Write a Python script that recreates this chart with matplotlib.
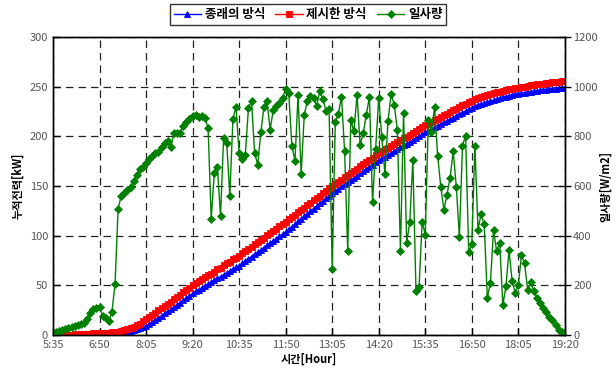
import numpy as np
import matplotlib
matplotlib.use("Agg")
import matplotlib.pyplot as plt

plt.rcParams['font.family'] = ['Noto Sans CJK KR', 'DejaVu Sans']

# sampling: every 5 minutes from 5:35 to 19:20 (minutes after midnight)
start_min = 335
step_min = 5
tick_labels = ['5:35', '6:50', '8:05', '9:20', '10:35', '11:50',
               '13:05', '14:20', '15:35', '16:50', '18:05', '19:20']

# accumulated power, conventional method [kW]
conv_kw = [
    0, 0, 0.1, 0.1, 0.2, 0.2, 0.3, 0.3, 0.4, 0.5, 0.5, 0.6, 0.7, 0.8, 0.9, 1.0,
    1.1, 1.2, 1.4, 1.6, 1.8, 2.1, 2.5, 3.0, 3.6, 4.3, 5.1, 5.9, 6.9, 7.9, 9.0,
    11.0, 13.1, 15.2, 17.4, 19.6, 21.8, 24.0, 26.2, 28.4, 30.6, 32.8, 35.0, 37.3, 39.6, 42.0,
    43.9, 45.8, 47.6, 49.5, 51.4, 53.2, 55.1, 57.0, 58.8, 60.7, 62.6, 64.4, 66.3, 68.1, 70.0,
    72.3, 74.5, 76.8, 79.1, 81.3, 83.6, 85.9, 88.1, 90.4, 92.7, 94.9, 97.2, 99.5, 101.7, 104.0,
    106.6, 109.2, 111.8, 114.4, 117.0, 119.6, 122.2, 124.8, 127.4, 130.0, 132.6, 135.2, 137.8, 140.4, 143.0,
    145.2, 147.4, 149.6, 151.8, 154.0, 156.2, 158.4, 160.6, 162.8, 165.0, 167.2, 169.4, 171.6, 173.8, 176.0,
    177.9, 179.7, 181.6, 183.5, 185.3, 187.2, 189.1, 190.9, 192.8, 194.7, 196.5, 198.4, 200.3, 202.1, 204.0,
    205.7, 207.3, 209.0, 210.7, 212.3, 214.0, 215.7, 217.3, 219.0, 220.7, 222.3, 224.0, 225.7, 227.3, 229.0,
    230.2, 231.3, 232.4, 233.5, 234.5, 235.5, 236.5, 237.4, 238.3, 239.2, 240.0, 240.8, 241.6, 242.3, 243.0,
    243.5, 244.0, 244.5, 245.0, 245.4, 245.8, 246.2, 246.6, 247.0, 247.3, 247.6, 247.9, 248.2, 248.5, 248.7,
]

# accumulated power, proposed method [kW]
prop_kw = [
    0, 0.1, 0.2, 0.3, 0.4, 0.5, 0.6, 0.8, 0.9, 1.0, 1.2, 1.3, 1.5, 1.7, 1.9, 2.0,
    2.2, 2.4, 2.6, 2.9, 3.2, 3.6, 4.1, 4.8, 5.7, 6.8, 8.1, 9.7, 11.6, 13.7, 16.0,
    18.2, 20.4, 22.6, 24.8, 27.0, 29.2, 31.5, 33.8, 36.1, 38.4, 40.7, 43.0, 45.3, 47.6, 50.0,
    52.1, 54.0, 56.2, 58.1, 60.0, 61.9, 64.0, 66.1, 68.0, 70.2, 72.1, 74.0, 76.1, 78.0, 80.0,
    82.2, 84.4, 86.7, 89.0, 91.3, 93.5, 95.8, 98.1, 100.4, 102.7, 105.0, 107.2, 109.4, 111.7, 114.0,
    116.4, 118.8, 121.2, 123.6, 126.0, 128.4, 130.8, 133.2, 135.6, 138.0, 140.4, 142.8, 145.2, 147.6, 150.0,
    152.2, 154.4, 156.6, 158.8, 161.0, 163.2, 165.4, 167.6, 169.8, 172.0, 174.2, 176.4, 178.6, 180.8, 183.0,
    185.0, 186.9, 188.8, 190.7, 192.5, 194.3, 196.1, 197.9, 199.7, 201.5, 203.3, 205.2, 207.1, 209.0, 211.0,
    212.7, 214.4, 216.1, 217.8, 219.5, 221.2, 222.9, 224.6, 226.3, 228.0, 229.7, 231.3, 232.9, 234.5, 236.0,
    237.2, 238.3, 239.4, 240.5, 241.5, 242.5, 243.4, 244.3, 245.1, 245.9, 246.6, 247.3, 247.9, 248.5, 249.0,
    249.6, 250.2, 250.8, 251.3, 251.8, 252.3, 252.8, 253.2, 253.6, 254.0, 254.4, 254.8, 255.2, 255.5, 255.8,
]

# irradiance [W/m2]
irr_wm2 = [
    7, 11, 16, 20, 24, 29, 33, 37, 40, 43, 47, 63, 87, 107, 110, 114, 76, 70, 58, 94,
    205, 508, 562, 574, 586, 598, 622, 645, 669,
    676, 692, 709, 721, 732, 737, 759, 772, 780, 756, 812, 813, 813, 843, 856, 870,
    883, 887, 879, 882, 874, 834, 468, 652, 676, 478, 793,
    772, 562, 870, 919, 732, 709, 726, 914, 941, 732, 686, 816, 919, 941, 827, 906,
    923, 933, 954, 990, 973, 763, 702, 967, 649, 887, 943,
    963, 954, 923, 983, 950, 903, 910, 268, 856, 892, 959, 740, 339, 866, 820, 967,
    767, 812, 887, 959, 535, 750, 955, 797, 649, 863,
    970, 927, 826, 339, 896, 371, 455, 705, 178, 194, 455, 405, 866, 816, 919, 722,
    598, 504, 566, 633, 740, 598, 395, 763, 803, 335, 365, 763, 424,
    488, 446, 151, 210, 424, 339, 371, 120, 197, 341, 218, 170, 201, 321, 290, 183,
    214, 178, 151, 130, 111, 94, 71, 60, 40, 20, 13, 7,
]

t = start_min + step_min * np.arange(len(irr_wm2))

fig = plt.figure(figsize=(6.16, 3.74), dpi=100)
ax = fig.add_axes([0.086, 0.104, 0.831, 0.797])
ax2 = ax.twinx()

l1, = ax.plot(t, conv_kw, color='#0000ff', marker='^', markersize=4.2, lw=1,
              markeredgewidth=0.6, label='종래의 방식')
l2, = ax.plot(t, prop_kw, color='#ff0000', marker='s', markersize=4.6, lw=1,
              markeredgewidth=0.6, label='제시한 방식')
l3, = ax2.plot(t, irr_wm2, color='#008000', marker='D', markersize=3.8, lw=1,
               markeredgewidth=0.5, label='일사량')

xticks = [start_min + 75 * k for k in range(len(tick_labels))]
ax.set_xlim(xticks[0], xticks[-1])
ax.set_xticks(xticks)
ax.set_xticklabels(tick_labels)
ax.set_ylim(0, 300)
ax.set_yticks(range(0, 301, 50))
ax2.set_ylim(0, 1200)
ax2.set_yticks(range(0, 1201, 200))

ax.grid(True, color='#222222', linestyle=(0, (6, 4)), linewidth=0.9)
ax.set_axisbelow(True)

for a in (ax, ax2):
    a.tick_params(labelsize=8, labelcolor='#555555', length=5, width=1)
    for s in a.spines.values():
        s.set_linewidth(1)
ax.tick_params(axis='both', direction='in')
ax2.tick_params(axis='y', direction='inout', length=8, pad=2)

ax.set_ylabel('누적전력[kW]', fontsize=8, fontweight='bold')
ax2.set_ylabel('일사량[W/m2]', fontsize=8, fontweight='bold', labelpad=1)
ax.set_xlabel('시간[Hour]', fontsize=8, fontweight='bold', labelpad=2)

leg = fig.legend(handles=[l1, l2, l3], loc='upper center', bbox_to_anchor=(0.5, 0.995),
                 ncol=3, frameon=True, fancybox=False,
                 handlelength=2.2, handletextpad=0.3, columnspacing=0.8,
                 borderpad=0.3, borderaxespad=0.2,
                 prop={'weight': 'bold', 'size': 9})
leg.get_frame().set_edgecolor('black')
leg.get_frame().set_linewidth(1)

fig.savefig('out.png', dpi=100)
